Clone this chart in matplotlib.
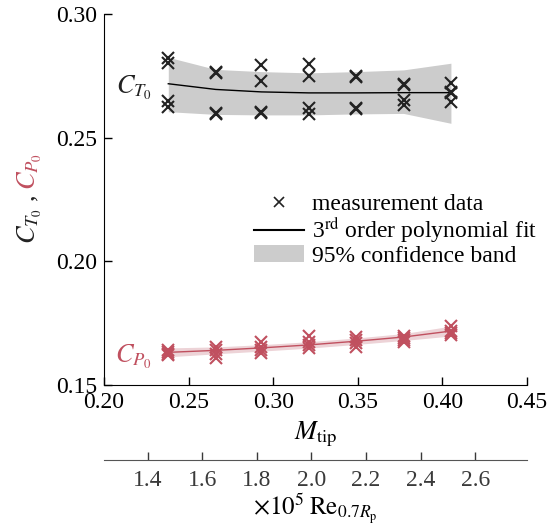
import numpy as np
import matplotlib.pyplot as plt
from matplotlib.lines import Line2D
from matplotlib.patches import Patch

plt.rcParams['font.family'] = ['Liberation Serif', 'DejaVu Serif']
plt.rcParams['mathtext.fontset'] = 'stix'
plt.rcParams['font.size'] = 17

# data ---------------------------------------------------------------- data
M = [0.238, 0.266, 0.293, 0.321, 0.349, 0.377, 0.405]

# four runs per tip Mach number
CT = [[0.2821, 0.2803, 0.2648, 0.2625],
      [0.2766, 0.2762, 0.2600, 0.2596],
      [0.2794, 0.2730, 0.2603, 0.2599],
      [0.2798, 0.2749, 0.2619, 0.2596],
      [0.2749, 0.2745, 0.2621, 0.2617],
      [0.2716, 0.2713, 0.2652, 0.2632],
      [0.2722, 0.2679, 0.2645, 0.2683]]
CP = [[0.1640, 0.1632, 0.1625, 0.1620],
      [0.1652, 0.1640, 0.1625, 0.1608],
      [0.1672, 0.1655, 0.1640, 0.1628],
      [0.1700, 0.1672, 0.1660, 0.1648],
      [0.1695, 0.1680, 0.1668, 0.1652],
      [0.1700, 0.1690, 0.1680, 0.1672],
      [0.1740, 0.1720, 0.1710, 0.1702]]

CT_fit = [0.2718, 0.2695, 0.2685, 0.2681, 0.2681, 0.2682, 0.2682]
CT_up = [0.2825, 0.2776, 0.2767, 0.2762, 0.2767, 0.2774, 0.2801]
CT_lo = [0.2605, 0.2594, 0.2592, 0.2592, 0.2596, 0.2598, 0.2558]
CP_fit = [0.1632, 0.1640, 0.1650, 0.1662, 0.1677, 0.1694, 0.1718]
CP_up = [0.1650, 0.1654, 0.1663, 0.1675, 0.1690, 0.1708, 0.1738]
CP_lo = [0.1614, 0.1626, 0.1637, 0.1649, 0.1664, 0.1680, 0.1698]

RE_PER_M = 6.2  # x10^5 Re_0.7Rp per unit tip Mach

red = '#c0505f'
red_band = '#edd3d7'
gray_band = '#cccccc'
dark = '#222222'

# plot ----------------------------------------------------------------- plot
fig = plt.figure(figsize=(5.56, 5.30), dpi=100)
ax = fig.add_axes([0.187, 0.2736, 0.761, 0.7])

ax.fill_between(M, CT_lo, CT_up, color=gray_band, lw=0)
ax.fill_between(M, CP_lo, CP_up, color=red_band, lw=0)
ax.plot(M, CT_fit, color='black', lw=1)
ax.plot(M, CP_fit, color=red, lw=1)

for m, cts, cps in zip(M, CT, CP):
    ax.plot([m] * len(cts), cts, 'x', color=dark, ms=8.5, mew=1.5)
    ax.plot([m] * len(cps), cps, 'x', color=red, ms=8.5, mew=1.5)

ax.text(0.2285, 0.2702, r'$C_{T_0}$', ha='right', va='center', color=dark, fontsize=19)
ax.text(0.2285, 0.1612, r'$C_{P_0}$', ha='right', va='center', color=red, fontsize=19)

ax.set_xlim(0.20, 0.45)
ax.set_ylim(0.15, 0.30)
ax.set_xticks([0.20, 0.25, 0.30, 0.35, 0.40, 0.45])
ax.set_yticks([0.15, 0.20, 0.25, 0.30])
ax.xaxis.set_major_formatter(plt.FormatStrFormatter('%.2f'))
ax.yaxis.set_major_formatter(plt.FormatStrFormatter('%.2f'))
ax.tick_params(direction='in', length=6, width=1, pad=5)
ax.spines['top'].set_visible(False)
ax.spines['right'].set_visible(False)
ax.set_xlabel(r'$M_\mathrm{tip}$', labelpad=5, fontsize=19)

# y label in two colours
fig.text(0.054, 0.587, r'$C_{T_0}$ ,', rotation=90, ha='center', va='center', color=dark, fontsize=19)
fig.text(0.054, 0.676, r'$C_{P_0}$', rotation=90, ha='center', va='center', color=red, fontsize=19)

# Reynolds number axis below
sec = ax.secondary_xaxis(-0.202, functions=(lambda m: m * RE_PER_M, lambda re: re / RE_PER_M))
sec.set_xticks([1.4, 1.6, 1.8, 2.0, 2.2, 2.4, 2.6])
sec.xaxis.set_major_formatter(plt.FormatStrFormatter('%.1f'))
sec.tick_params(direction='in', length=6, width=1, colors='#3a3a3a', pad=7)
sec.spines['bottom'].set_color('#555555')
sec.set_xlabel(r'$\times 10^5\;\mathrm{Re}_{0.7R_\mathrm{p}}$', labelpad=1, fontsize=18)

handles = [Line2D([], [], ls='none', marker='x', color=dark, ms=7, mew=1.2),
           Line2D([], [], color='black', lw=1.5),
           Patch(color=gray_band, lw=0)]
labels = ['measurement data', r'3$^\mathrm{rd}$ order polynomial fit', '95% confidence band']
ax.legend(handles, labels, loc='upper left', bbox_to_anchor=(0.355, 0.515),
          frameon=False, handlelength=2.1, handletextpad=0.35, labelspacing=0.0,
          borderpad=0, borderaxespad=0)

fig.savefig('out.png', dpi=100)
